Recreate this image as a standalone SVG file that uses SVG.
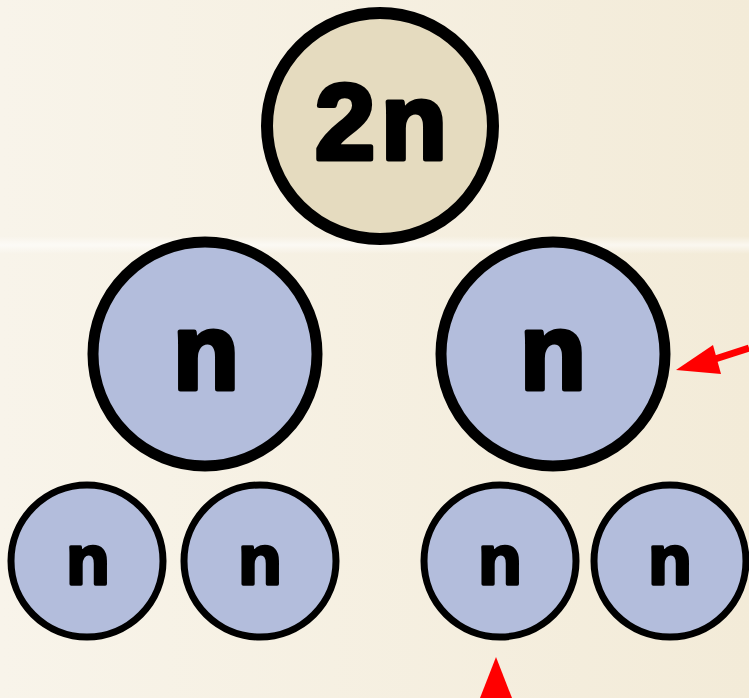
<svg xmlns="http://www.w3.org/2000/svg" width="749" height="698" viewBox="0 0 749 698">
<defs>
<linearGradient id="bg" x1="0" y1="0" x2="1" y2="0">
<stop offset="0" stop-color="#f8f4ea"/>
<stop offset="1" stop-color="#f3ebd8"/>
</linearGradient>
<linearGradient id="band" x1="0" y1="0" x2="0" y2="1">
<stop offset="0" stop-color="#ffffff" stop-opacity="0"/>
<stop offset="0.5" stop-color="#ffffff" stop-opacity="0.6"/>
<stop offset="1" stop-color="#ffffff" stop-opacity="0"/>
</linearGradient>
</defs>
<style>
.big{fill:#e5dbbf;stroke:#000;stroke-width:12}
.mid{fill:#b3bddc;stroke:#000;stroke-width:11}
.sm{fill:#b3bddc;stroke:#000;stroke-width:7}
.t{font-family:"Liberation Sans",Arial,sans-serif;font-weight:bold;fill:#000;stroke:#000;stroke-linejoin:round;text-anchor:middle}
.arr{fill:#ff0000;stroke:none}
</style>
<rect width="749" height="698" fill="url(#bg)"/>
<rect x="0" y="236" width="749" height="18" fill="url(#band)"/>
<g id="node-2n">
<circle class="big" cx="380" cy="126" r="113"/>
<text class="t" x="384" y="159" font-size="108" stroke-width="5" letter-spacing="6">2n</text>
</g>
<g id="node-n-left">
<circle class="mid" cx="205" cy="354" r="112"/>
<text class="t" x="206" y="389" font-size="108" stroke-width="5">n</text>
</g>
<g id="node-n-right">
<circle class="mid" cx="553" cy="354" r="112"/>
<text class="t" x="553" y="389" font-size="108" stroke-width="5">n</text>
</g>
<g id="node-n-1">
<circle class="sm" cx="87" cy="561" r="76"/>
<text class="t" x="88" y="584" font-size="71" stroke-width="3.5">n</text>
</g>
<g id="node-n-2">
<circle class="sm" cx="260" cy="561" r="76"/>
<text class="t" x="260" y="584" font-size="71" stroke-width="3.5">n</text>
</g>
<g id="node-n-3">
<circle class="sm" cx="500" cy="561" r="76"/>
<text class="t" x="500" y="584" font-size="71" stroke-width="3.5">n</text>
</g>
<g id="node-n-4">
<circle class="sm" cx="670" cy="561" r="76"/>
<text class="t" x="670" y="584" font-size="71" stroke-width="3.5">n</text>
</g>
<g id="connectors">
<line x1="712" y1="360" x2="749" y2="348" stroke="#ff0000" stroke-width="7"/>
<polygon class="arr" points="676,370 713,345 721,374"/>
<polygon class="arr" points="496,657 480,698 512,698"/>
</g>
</svg>
